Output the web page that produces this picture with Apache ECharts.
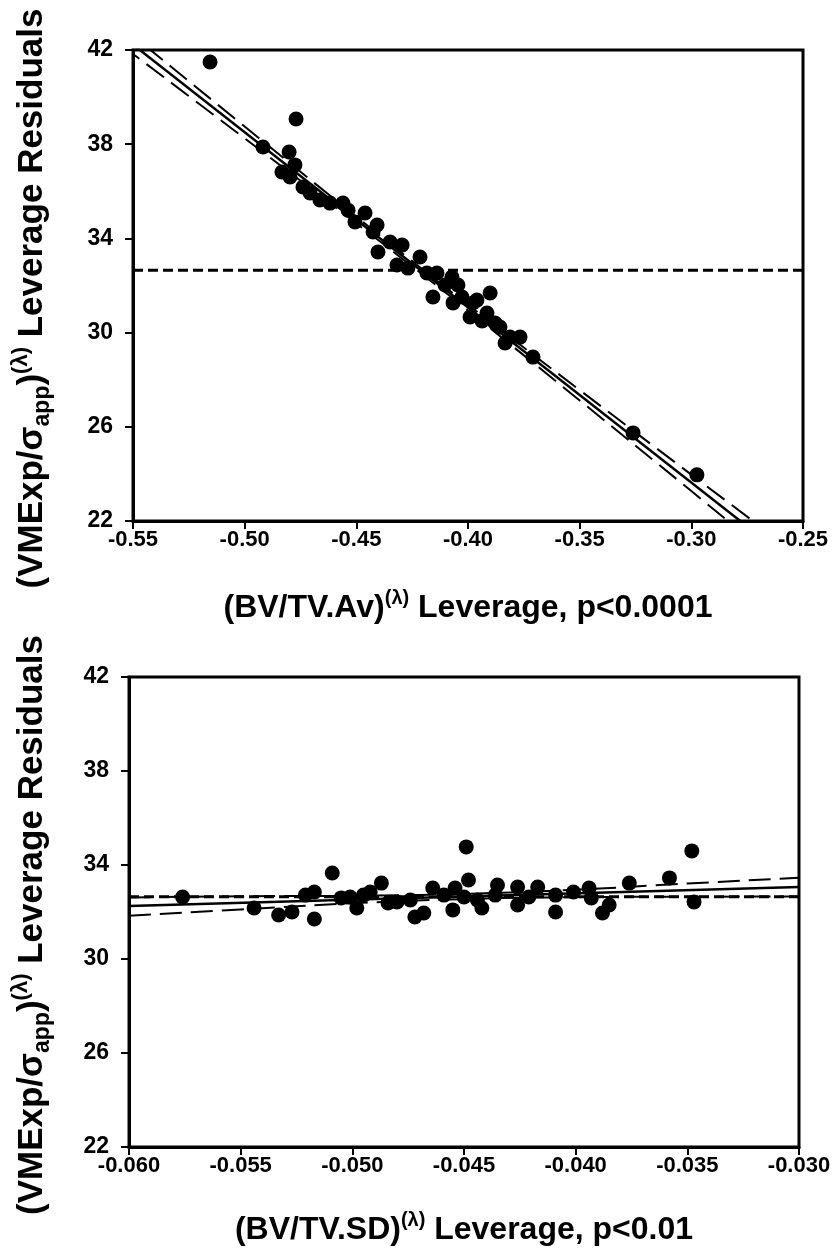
<!DOCTYPE html>
<html><head><meta charset="utf-8">
<script src="https://cdn.jsdelivr.net/npm/echarts@6/dist/echarts.min.js"></script>
<style>html,body{margin:0;padding:0;background:#fff}#c{width:840px;height:1260px}</style>
</head><body><div id="c"></div>
<script>
// ---- Top panel data: (BV/TV.Av) leverage vs residuals ----
const topX = [-0.5155,-0.4770,-0.4918,-0.4801,-0.4833,-0.4797,-0.4775,-0.4739,-0.4707,-0.4618,-0.4560,-0.4663,-0.4537,-0.4506,-0.4461,-0.4407,-0.4425,-0.4403,-0.4349,-0.4295,-0.4318,-0.4269,-0.4215,-0.4184,-0.4139,-0.4157,-0.4103,-0.4072,-0.4045,-0.4067,-0.4027,-0.3960,-0.3978,-0.3901,-0.3991,-0.3915,-0.3879,-0.3857,-0.3834,-0.3767,-0.3709,-0.3261,-0.2975,-0.3937,-0.3812];
const topY = [41.49,39.07,37.88,37.67,36.82,36.61,37.12,36.18,35.93,35.50,35.50,35.63,35.20,34.70,35.08,34.57,34.27,33.42,33.85,33.72,32.87,32.74,33.21,32.53,32.53,31.51,32.02,32.36,32.02,31.26,31.51,31.38,31.26,31.68,30.66,30.83,30.41,30.24,29.56,29.81,28.96,25.74,23.96,30.49,29.81];
// regression fit and confidence band
const topFitX = [-0.555, -0.270];
const topFitY = [42.60, 21.40];
const topCiX = [-0.555,-0.50,-0.45,-0.42,-0.40,-0.35,-0.30,-0.27];
const topCiUpper = [42.99,38.75,34.92,32.66,31.18,27.56,23.97,21.83];
const topCiLower = [42.19,38.25,34.64,32.44,30.94,27.12,23.27,20.95];

// ---- Bottom panel data: (BV/TV.SD) leverage vs residuals ----
const botX = [-0.0576,-0.0544,-0.0533,-0.0527,-0.0521,-0.0517,-0.0517,-0.0509,-0.0505,-0.0501,-0.0498,-0.0495,-0.0492,-0.0487,-0.0484,-0.0474,-0.0472,-0.0468,-0.0464,-0.0459,-0.0455,-0.0454,-0.0449,-0.0448,-0.0444,-0.0442,-0.0435,-0.0436,-0.0426,-0.0426,-0.0421,-0.0417,-0.0409,-0.0401,-0.0394,-0.0388,-0.0385,-0.0376,-0.0358,-0.0348,-0.0347,-0.0450,-0.0409,-0.0393,-0.0480];
const botY = [32.64,32.17,31.87,32.00,32.72,32.85,31.70,33.66,32.60,32.64,32.17,32.72,32.85,33.23,32.38,32.51,31.79,31.96,33.02,32.72,32.09,33.02,34.77,33.36,32.51,32.17,33.15,32.72,33.06,32.30,32.64,33.06,32.00,32.85,33.02,31.96,32.30,33.23,33.45,34.60,32.43,32.64,32.72,32.60,32.43];
const botFitX = [-0.060, -0.030];
const botFitY = [32.26, 33.06];
const botCiX = [-0.060,-0.055,-0.050,-0.045,-0.040,-0.035,-0.030];
const botCiUpper = [32.62,32.67,32.69,32.77,32.95,33.21,33.46];
const botCiLower = [31.84,32.11,32.37,32.55,32.63,32.65,32.66];

const meanY = 32.65;
const yTicks = [22,26,30,34,38,42];
const topXTicks = [-0.55,-0.50,-0.45,-0.40,-0.35,-0.30,-0.25];
const botXTicks = [-0.060,-0.055,-0.050,-0.045,-0.040,-0.035,-0.030];

const FONT = '"Liberation Sans", Arial, sans-serif';
const zip = (a, b) => a.map((v, i) => [v, b[i]]);

function rich(size) {
  return {
    n: {fontSize: size, fontWeight: 'bold', fontFamily: FONT, color: '#000', lineHeight: size + 9, verticalAlign: 'middle'},
    sub: {fontSize: Math.round(size * 0.67), fontWeight: 'bold', fontFamily: FONT, color: '#000', lineHeight: Math.round(size * 0.67), verticalAlign: 'bottom'},
    sup: {fontSize: Math.round(size * 0.64), fontWeight: 'bold', fontFamily: FONT, color: '#000', lineHeight: Math.round(size * 0.64), verticalAlign: 'top'}
  };
}

function xAxis(idx, ticks, dec, name, gap) {
  return {
    type: 'value', gridIndex: idx, min: ticks[0], max: ticks[ticks.length - 1],
    axisLine: {show: true, onZero: false, lineStyle: {color: '#000', width: 3}},
    axisTick: {show: true, inside: false, length: 8, lineStyle: {color: '#000', width: 2}, customValues: ticks},
    axisLabel: {customValues: ticks, formatter: v => v.toFixed(dec), color: '#000', fontWeight: 'bold', fontSize: 22, fontFamily: FONT, margin: 8},
    splitLine: {show: false},
    name: name, nameLocation: 'middle', nameGap: gap,
    nameTextStyle: {rich: rich(32)}
  };
}
function yAxis(idx, gap) {
  return {
    type: 'value', gridIndex: idx, min: yTicks[0], max: yTicks[yTicks.length - 1],
    axisLine: {show: true, onZero: false, lineStyle: {color: '#000', width: 3}},
    axisTick: {show: true, inside: false, length: 8, lineStyle: {color: '#000', width: 2}, customValues: yTicks},
    axisLabel: {customValues: yTicks, color: '#000', fontWeight: 'bold', fontSize: 23, fontFamily: FONT, margin: 20},
    splitLine: {show: false},
    name: '{n|(VMExp/σ}{sub|app}{n|)}{sup|(λ)}{n| Leverage Residuals}',
    nameLocation: 'middle', nameRotate: 90, nameGap: gap,
    nameTextStyle: {rich: rich(35), padding: [0, 26, 0, 0]}
  };
}
function lineSeries(idx, data, type, width) {
  return {type: 'line', xAxisIndex: idx, yAxisIndex: idx, data: data, showSymbol: false, symbol: 'none',
    lineStyle: {color: '#000', width: width, type: type}, clip: true, z: 3, silent: true};
}
function ciSeries(idx, xs, ys) {
  const s = lineSeries(idx, zip(xs, ys), [22, 9], 2);
  s.smooth = true;
  return s;
}
function scatter(idx, xs, ys) {
  return {type: 'scatter', xAxisIndex: idx, yAxisIndex: idx, data: zip(xs, ys), symbol: 'circle', symbolSize: 15,
    itemStyle: {color: '#000', opacity: 1}, z: 2, silent: true};
}

const chart = echarts.init(document.getElementById('c'), null, {renderer: 'canvas'});
chart.setOption({
  animation: false,
  backgroundColor: '#fff',
  grid: [
    {left: 133, top: 50, width: 670, height: 471, show: true, borderColor: '#000', borderWidth: 3, backgroundColor: 'transparent', containLabel: false, outerBoundsMode: 'none'},
    {left: 129, top: 677, width: 670, height: 470, show: true, borderColor: '#000', borderWidth: 3, backgroundColor: 'transparent', containLabel: false, outerBoundsMode: 'none'}
  ],
  xAxis: [
    xAxis(0, topXTicks, 2, '{n|(BV/TV.Av)}{sup|(λ)}{n| Leverage, p<0.0001}', 67),
    xAxis(1, botXTicks, 3, '{n|(BV/TV.SD)}{sup|(λ)}{n| Leverage, p<0.01}', 63)
  ],
  yAxis: [yAxis(0, 79), yAxis(1, 75)],
  series: [
    scatter(0, topX, topY),
    lineSeries(0, zip(topFitX, topFitY), 'solid', 2.5),
    ciSeries(0, topCiX, topCiUpper),
    ciSeries(0, topCiX, topCiLower),
    lineSeries(0, [[topXTicks[0], meanY], [topXTicks[topXTicks.length - 1], meanY]], [10, 5], 3),
    scatter(1, botX, botY),
    lineSeries(1, zip(botFitX, botFitY), 'solid', 2.5),
    ciSeries(1, botCiX, botCiUpper),
    ciSeries(1, botCiX, botCiLower),
    lineSeries(1, [[botXTicks[0], meanY], [botXTicks[botXTicks.length - 1], meanY]], [10, 5], 3)
  ]
});
</script>
</body></html>
